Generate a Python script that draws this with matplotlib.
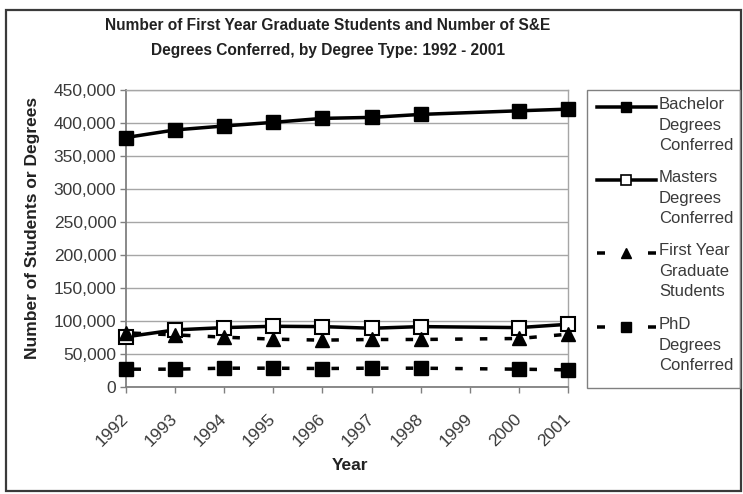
import numpy as np
import matplotlib
matplotlib.use("Agg")
import matplotlib.pyplot as plt
from matplotlib.patches import Rectangle
from matplotlib.lines import Line2D
from matplotlib.ticker import FuncFormatter, MultipleLocator

plt.rcParams['font.family'] = ['Liberation Sans', 'DejaVu Sans']
plt.rcParams['lines.scale_dashes'] = False

years = ["1992", "1993", "1994", "1995", "1996", "1997", "1998", "1999", "2000", "2001"]
bachelor = [378000, 389500, 395500, 401000, 407000, 408500, 413000, np.nan, 418500, 421000]
masters = [76000, 86500, 90000, 92000, 91500, 89000, 91500, np.nan, 90000, 95000]
first_year = [82000, 79000, 75500, 72500, 71000, 72000, 72000, np.nan, 73500, 80000]
phd = [27000, 27000, 28500, 28500, 28000, 28500, 28500, np.nan, 27000, 26000]

labels = ["Bachelor\nDegrees\nConferred", "Masters\nDegrees\nConferred",
          "First Year\nGraduate\nStudents", "PhD\nDegrees\nConferred"]
title_lines = ["Number of First Year Graduate Students and Number of S&E",
               "Degrees Conferred, by Degree Type: 1992 - 2001"]

W, H = 743, 494
fig = plt.figure(figsize=(W / 100, H / 100), dpi=100)

def fx(x):
    return x / W

def fy(y):
    return 1 - y / H

# outer frame
fig.patches.append(Rectangle((fx(6), fy(491)), fx(741) - fx(6), fy(10) - fy(491),
                             transform=fig.transFigure, fill=False,
                             edgecolor="#3a3a3a", lw=1.6, zorder=0))

L, R, T, B = 126, 568, 90, 387
ax = fig.add_axes([fx(L), fy(B), fx(R) - fx(L), fy(T) - fy(B)])

x = np.arange(len(years))
px2pt = 0.72
lw = 3.5 * px2pt
dash = (17.25 * px2pt, (7.5 * px2pt, 17.25 * px2pt))
leg_dash = (0, (8 * px2pt, 43 * px2pt))

styles = [
    dict(ls="-", marker="s", ms=10, mfc="black", mec="black", mew=1),
    dict(ls="-", marker="s", ms=9.5, mfc="white", mec="black", mew=1.5),
    dict(ls=dash, marker="^", ms=10, mfc="black", mec="black", mew=1),
    dict(ls=dash, marker="s", ms=10, mfc="black", mec="black", mew=1),
]
leg_styles = [
    dict(ls="-", marker="s", ms=7, mfc="black", mec="black", mew=1),
    dict(ls="-", marker="s", ms=7, mfc="white", mec="black", mew=1.2),
    dict(ls=leg_dash, marker="^", ms=7.5, mfc="black", mec="black", mew=1),
    dict(ls=leg_dash, marker="s", ms=7, mfc="black", mec="black", mew=1),
]

for series, st in zip([bachelor, masters, first_year, phd], styles):
    y = np.array(series, dtype=float)
    m = ~np.isnan(y)
    ax.plot(x[m], y[m], color="black", lw=lw, clip_on=False, zorder=3,
            dash_capstyle="butt", **st)

ax.set_xlim(0, 9)
ax.set_ylim(0, 450000)
ax.yaxis.set_major_locator(MultipleLocator(50000))
ax.yaxis.set_major_formatter(FuncFormatter(lambda v, p: f"{int(v):,}"))
ax.set_xticks(x)
ax.set_xticklabels(years, rotation=45, ha="right", va="center", rotation_mode="anchor")
ax.grid(axis="y", color="#a6a6a6", lw=1)
ax.set_axisbelow(True)

for s in ["left", "bottom"]:
    ax.spines[s].set_color("#808080")
    ax.spines[s].set_linewidth(1.3)
for s in ["top", "right"]:
    ax.spines[s].set_color("#a6a6a6")
    ax.spines[s].set_linewidth(1)

ax.tick_params(axis="both", length=4, width=1, color="#808080", labelsize=12.5,
               labelcolor="#3a3a3a", direction="out")
ax.tick_params(axis="y", pad=3)
ax.tick_params(axis="x", pad=17)

ax.set_xlabel("Year", fontsize=12.5, fontweight="bold", color="#222222", va="center")
ax.xaxis.set_label_coords((350 - L) / (R - L), (B - 465) / (B - T))
ax.set_ylabel("Number of Students or Degrees", fontsize=12.5, fontweight="bold",
              color="#222222", va="center")
ax.yaxis.set_label_coords((32 - L) / (R - L), (B - 228) / (B - T))

for ty, line in zip([26, 50], title_lines):
    fig.text(fx(328), fy(ty), line, ha="center", va="center", fontsize=11.2,
             fontweight="bold", color="#222222")

# legend box
fig.patches.append(Rectangle((fx(587), fy(388)), fx(740) - fx(587), fy(90) - fy(388),
                             transform=fig.transFigure, fill=False,
                             edgecolor="#808080", lw=1, zorder=1))

leg_y = [107, 180, 253, 327]
for yy, lab, st in zip(leg_y, labels, leg_styles):
    ln = Line2D([fx(597), fx(626), fx(656)], [fy(yy)] * 3, transform=fig.transFigure,
                color="black", lw=lw, markevery=[1], dash_capstyle="butt", **st)
    fig.lines.append(ln)
    fig.text(fx(659), fy(yy - 10), lab, ha="left", va="top", fontsize=12,
             color="#3a3a3a", linespacing=1.46)

fig.savefig("out.png", dpi=100)
